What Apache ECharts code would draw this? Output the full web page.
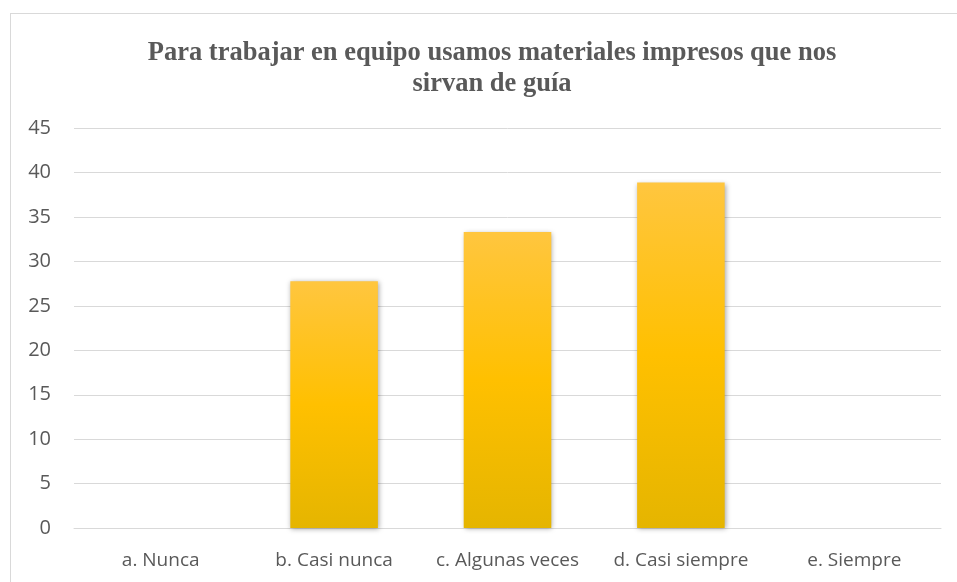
<!DOCTYPE html>
<html><head><meta charset="utf-8">
<script src="https://cdn.jsdelivr.net/npm/echarts@6/dist/echarts.min.js"></script>
<style>
html,body{margin:0;padding:0;background:#fff;}
#frame{position:absolute;left:10px;top:13px;width:960px;height:600px;border-left:1px solid #d9d9d9;border-top:1px solid #d9d9d9;}
#c{position:absolute;left:0;top:0;width:957px;height:582px;}
</style></head>
<body>
<div id="frame"></div>
<div id="c"></div>
<script>
const titleText = "Para trabajar en equipo usamos materiales impresos que nos\nsirvan de guía";
const categories = ["a. Nunca", "b. Casi nunca", "c. Algunas veces", "d. Casi siempre", "e. Siempre"];
const values = [0, 27.78, 33.33, 38.89, 0];
const yTicks = [0, 5, 10, 15, 20, 25, 30, 35, 40, 45];

const chart = echarts.init(document.getElementById('c'), null, {renderer: 'canvas'});
chart.setOption({
  animation: false,
  backgroundColor: 'transparent',
  title: {
    text: titleText,
    left: 492,
    top: 38,
    padding: 0,
    textAlign: 'center',
    textStyle: {
      fontFamily: 'Liberation Serif',
      fontWeight: 'bold',
      fontSize: 26.5,
      color: '#595959',
      lineHeight: 31
    }
  },
  grid: {left: 74, right: 16, top: 128.3, bottom: 54, containLabel: false},
  xAxis: {
    type: 'category',
    data: categories,
    axisLine: {show: true, lineStyle: {color: '#d9d9d9', width: 1}},
    axisTick: {show: false},
    axisLabel: {color: '#595959', fontFamily: 'Open Sans', fontSize: 19, margin: 23, interval: 0, hideOverlap: false}
  },
  yAxis: {
    type: 'value',
    min: yTicks[0],
    max: yTicks[yTicks.length - 1],
    interval: 5,
    axisLine: {show: false},
    axisTick: {show: false},
    splitLine: {lineStyle: {color: '#d9d9d9', width: 1}},
    axisLabel: {color: '#595959', fontFamily: 'Open Sans', fontSize: 20, margin: 23, align: 'right'}
  },
  series: [{
    type: 'bar',
    data: values,
    barWidth: '50.5%',
    itemStyle: {
      color: new echarts.graphic.LinearGradient(0, 0, 0, 1, [
        {offset: 0, color: '#FFC63F'},
        {offset: 0.5, color: '#FFC000'},
        {offset: 1, color: '#E5B500'}
      ]),
      shadowColor: 'rgba(0,0,0,0.35)',
      shadowBlur: 5,
      shadowOffsetX: 1,
      shadowOffsetY: 1
    }
  }]
});
</script>
</body></html>
